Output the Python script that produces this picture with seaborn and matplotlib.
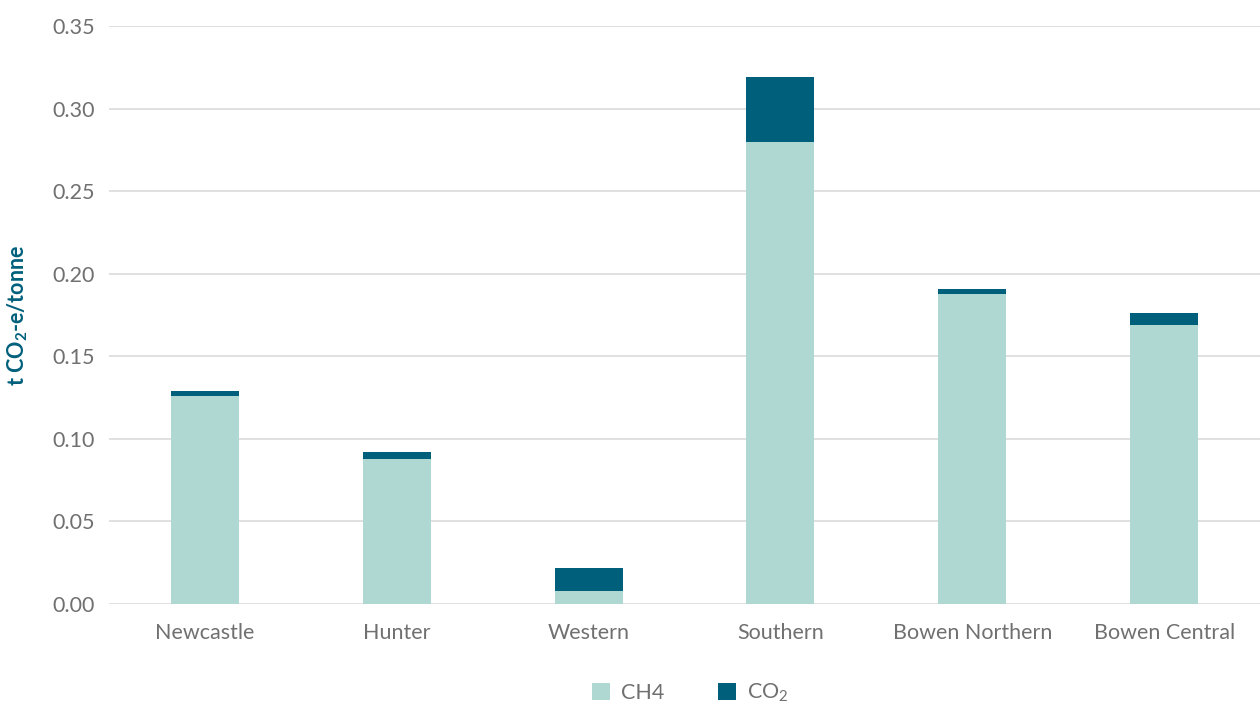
import matplotlib
matplotlib.use("Agg")
import matplotlib.pyplot as plt
import seaborn as sns
import pandas as pd
from matplotlib.patches import Patch

categories = ["Newcastle", "Hunter", "Western", "Southern", "Bowen Northern", "Bowen Central"]
ch4 = [0.126, 0.088, 0.008, 0.280, 0.188, 0.169]
co2 = [0.003, 0.004, 0.014, 0.039, 0.003, 0.007]
y_ticks = [0.00, 0.05, 0.10, 0.15, 0.20, 0.25, 0.30, 0.35]

sns.set_theme(style="white")
plt.rcParams["font.family"] = ["Lato", "DejaVu Sans"]
plt.rcParams["mathtext.default"] = "regular"

C_CH4 = "#AFD8D3"
C_CO2 = "#00607B"
TXT = "#707070"
FS = 15.5

df = pd.DataFrame({"region": categories, "CH4": ch4, "CO2": co2})
df["total"] = df["CH4"] + df["CO2"]

fig = plt.figure(figsize=(12.6, 7.07), dpi=100)
ax = fig.add_axes([109 / 1260, 1 - 604 / 707, 1 - 109 / 1260, (604 - 26) / 707])

sns.barplot(data=df, x="region", y="total", color=C_CO2, width=0.354,
            saturation=1, linewidth=0, edgecolor="none", ax=ax, zorder=3)
sns.barplot(data=df, x="region", y="CH4", color=C_CH4, width=0.354,
            saturation=1, linewidth=0, edgecolor="none", ax=ax, zorder=4)

ax.set_ylim(0, 0.35)
ax.set_xlim(-0.5, 5.5)
ax.set_yticks(y_ticks)
ax.set_yticklabels([f"{v:.2f}" for v in y_ticks])
ax.yaxis.grid(True, color="#dddddd", linewidth=1.3, zorder=0)
ax.xaxis.grid(False)
ax.set_axisbelow(True)
for s in ax.spines.values():
    s.set_visible(False)
ax.tick_params(axis="both", length=0, labelsize=FS, labelcolor=TXT)
ax.tick_params(axis="y", pad=10)
ax.tick_params(axis="x", pad=14)

ax.set_xlabel("")
ax.set_ylabel("t CO$_2$-e/tonne", fontsize=FS, fontweight="bold", color=C_CO2)
ax.yaxis.set_label_coords((30 - 109) / 1151, 0.5)

handles = [Patch(facecolor=C_CH4, edgecolor="none"),
           Patch(facecolor=C_CO2, edgecolor="none")]
leg = fig.legend(handles, ["CH4", "CO$_2$"], loc="center",
                 bbox_to_anchor=(690 / 1260, 1 - 693 / 707), ncol=2,
                 frameon=False, fontsize=FS, handlelength=0.85,
                 handleheight=0.85, columnspacing=2.5, handletextpad=0.5)
for t in leg.get_texts():
    t.set_color(TXT)

fig.savefig("out.png", dpi=100)
